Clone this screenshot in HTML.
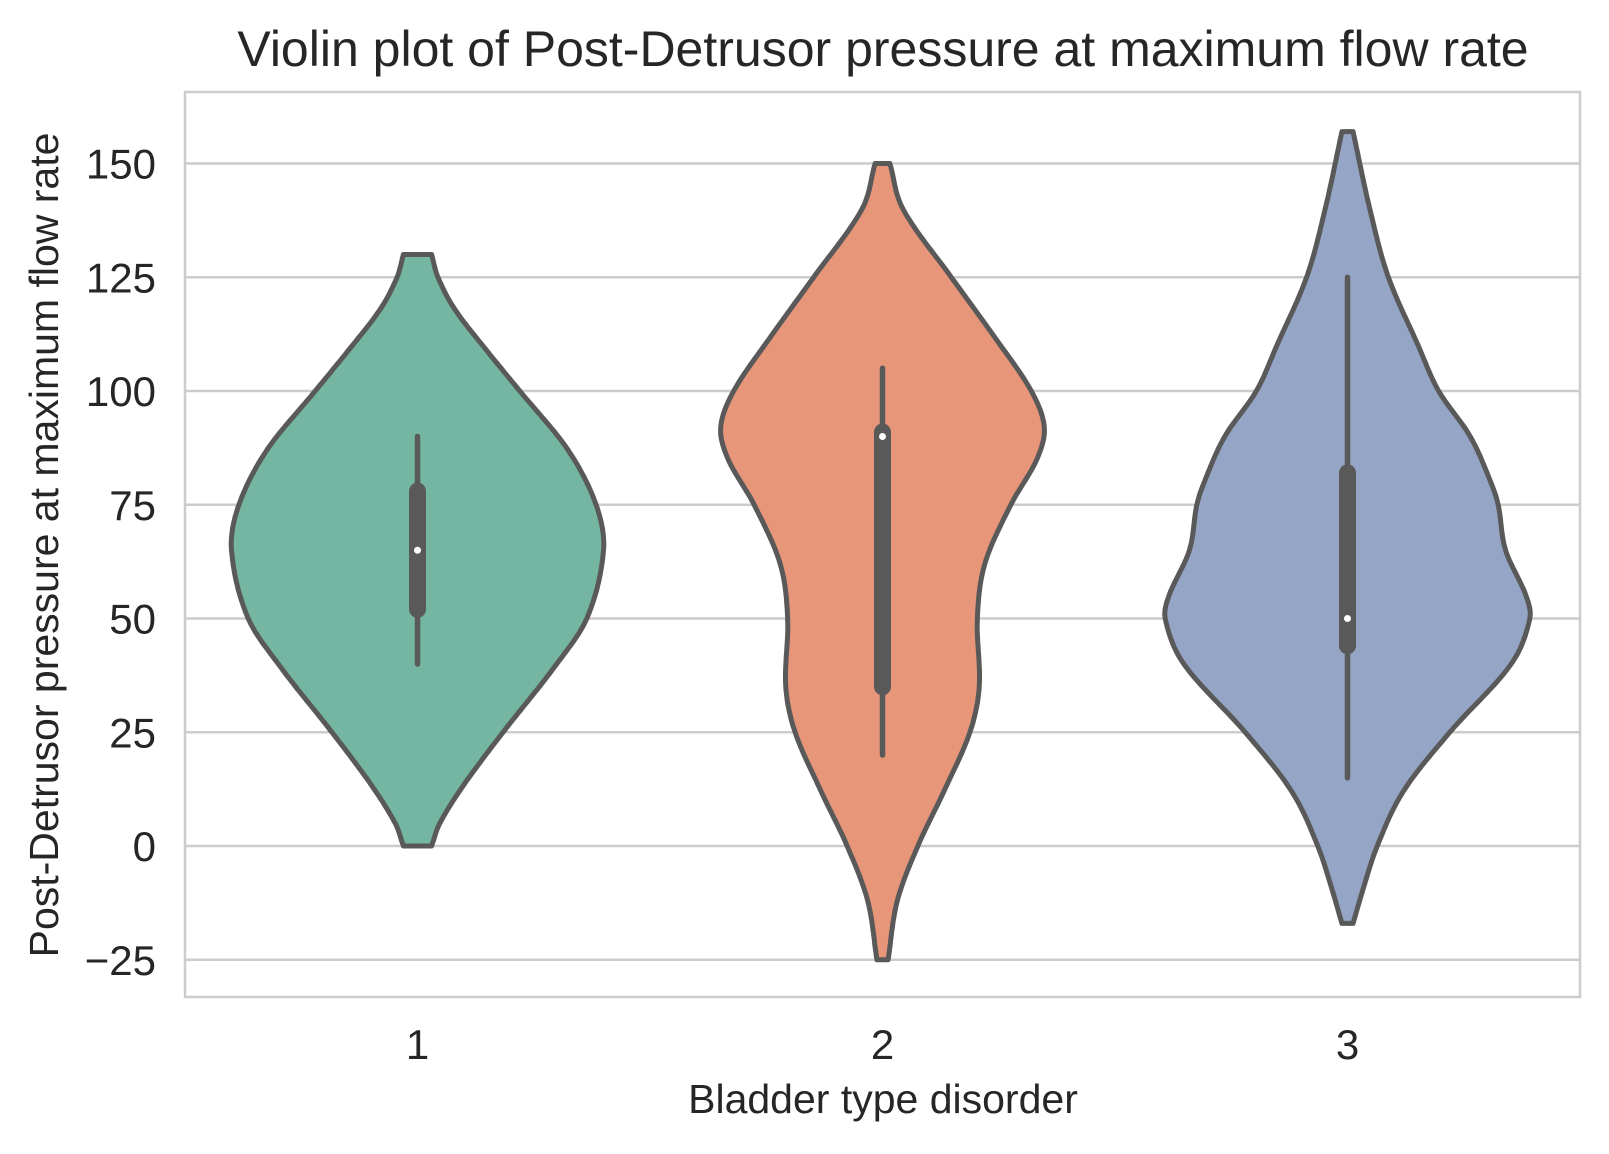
<!DOCTYPE html>
<html><head><meta charset="utf-8"><style>
body{margin:0;background:#fff;}
svg text{font-family:"Liberation Sans",Arial,sans-serif;fill:#262626;}
</style></head><body>
<svg id="chart" width="1609" height="1149" viewBox="0 0 1609 1149">
<text x="883" y="66" font-size="50" text-anchor="middle">Violin plot of Post-Detrusor pressure at maximum flow rate</text>
<text x="883" y="1113" font-size="41" text-anchor="middle">Bladder type disorder</text>
<text transform="translate(58,545) rotate(-90)" font-size="41" text-anchor="middle">Post-Detrusor pressure at maximum flow rate</text>
<g id="grid"></g><g id="violins"></g><g id="ticks"></g>
<rect x="185" y="92" width="1395" height="905" fill="none" stroke="#cccccc" stroke-width="2.5"/>
</svg>
<script>
const categories=['1','2','3'];
const yTicks=[-25,0,25,50,75,100,125,150];
// density profiles: [value, relative half-width]
const v1Profile=[[0,0.076],[5,0.12],[13.5,0.25],[25,0.46],[39,0.73],[50,0.91],[65,1.0],[75,0.96],[87,0.81],[100,0.55],[109,0.37],[118,0.2],[125,0.11],[130,0.076]];
const v2Profile=[[-25,0.03],[-12,0.08],[0,0.19],[12,0.33],[25,0.47],[35,0.52],[50,0.51],[62,0.55],[75,0.69],[85,0.83],[92,0.87],[100,0.8],[112,0.6],[125,0.37],[140,0.11],[150,0.04]];
const v3Profile=[[-17,0.03],[-10,0.08],[0,0.16],[12,0.3],[25,0.55],[40,0.88],[50,0.98],[55,0.96],[65,0.85],[75,0.81],[80,0.77],[90,0.66],[100,0.49],[110,0.38],[125,0.22],[140,0.12],[157,0.03]];
const profiles=[v1Profile,v2Profile,v3Profile];
const q1=[52,35,44],q3=[78,91,82],medians=[65,90,50],whiskLo=[40,20,15],whiskHi=[90,105,125];
const colors=['#74b6a1','#e8967a','#95a5c6'];
const y=v=>846-v*4.55;
const x=i=>417.5+i*465;
const maxHW=186;
const NS='http://www.w3.org/2000/svg';
function mk(t,a,p){const e=document.createElementNS(NS,t);for(const k in a)e.setAttribute(k,a[k]);p.appendChild(e);return e;}
const grid=document.getElementById('grid'),ticks=document.getElementById('ticks'),vg=document.getElementById('violins');
yTicks.forEach(t=>{
 const l=mk('line',{x1:185,x2:1580,y1:y(t),y2:y(t),stroke:'#cccccc','stroke-width':2.5},grid);
 
 
 const tx=mk('text',{x:156,y:y(t)+15,'font-size':42,'text-anchor':'end'},ticks);
 tx.textContent=t<0?'\u2212'+Math.abs(t):t;
 
 
});
categories.forEach((c,i)=>{
 const tx=mk('text',{x:x(i),y:1059,'font-size':42,'text-anchor':'middle'},ticks);
 tx.textContent=c;
 
 
});
function hwAt(prof,v){
 let i=0;while(i<prof.length-2&&v>prof[i+1][0])i++;
 const p0=prof[Math.max(0,i-1)],p1=prof[i],p2=prof[i+1],p3=prof[Math.min(prof.length-1,i+2)];
 const t=(v-p1[0])/(p2[0]-p1[0]);
 const m1=(p2[1]-p0[1])/(p2[0]-p0[0])*(p2[0]-p1[0]);
 const m2=(p3[1]-p1[1])/(p3[0]-p1[0])*(p2[0]-p1[0]);
 const t2=t*t,t3=t2*t;
 return (2*t3-3*t2+1)*p1[1]+(t3-2*t2+t)*m1+(-2*t3+3*t2)*p2[1]+(t3-t2)*m2;
}
profiles.forEach((prof,i)=>{
 const cx=x(i);
 const lo=prof[0][0],hi=prof[prof.length-1][0];
 const R=[],L=[];
 const n=200;
 for(let k=0;k<=n;k++){const v=lo+(hi-lo)*k/n;const w=Math.max(0.01,hwAt(prof,v))*maxHW;R.push((cx+w).toFixed(1)+','+y(v).toFixed(1));L.unshift((cx-w).toFixed(1)+','+y(v).toFixed(1));}
 const path=mk('path',{d:'M'+R.join(' L')+' L'+L.join(' L')+' Z',fill:colors[i],stroke:'#595959','stroke-width':5,'stroke-linejoin':'round'},vg);
 
 
 const w=mk('line',{x1:cx,x2:cx,y1:y(whiskLo[i]),y2:y(whiskHi[i]),stroke:'#595959','stroke-width':5.5,'stroke-linecap':'round'},vg);
 
 
 const b=mk('line',{x1:cx,x2:cx,y1:y(q1[i]),y2:y(q3[i]),stroke:'#595959','stroke-width':17,'stroke-linecap':'round'},vg);
 
 
 const m=mk('circle',{cx:cx,cy:y(medians[i]),r:3.5,fill:'#fff'},vg);
 
 
});
</script>
</body></html>
